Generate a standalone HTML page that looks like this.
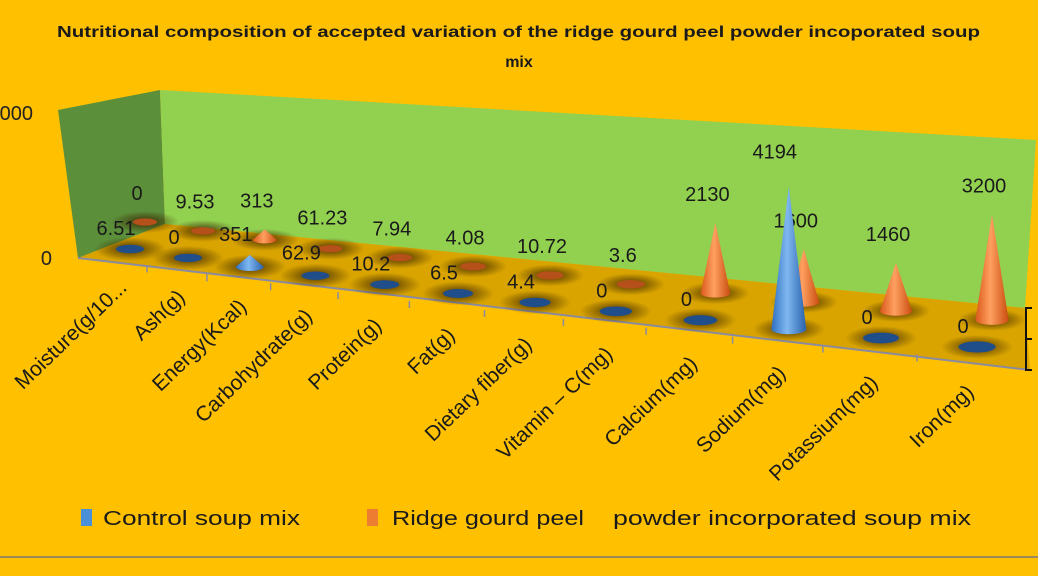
<!DOCTYPE html>
<html><head><meta charset="utf-8"><style>
html,body{margin:0;padding:0;background:#FFC000;}
svg{display:block;font-family:"Liberation Sans",sans-serif;}
</style></head><body>
<svg id="chart" width="1038" height="576" viewBox="0 0 1038 576">
<defs>
<linearGradient id="blueG" x1="0" x2="1"><stop offset="0" stop-color="#2f6fc0"/><stop offset="0.45" stop-color="#7fb8f0"/><stop offset="1" stop-color="#2a62ad"/></linearGradient>
<linearGradient id="orgG" x1="0" x2="1"><stop offset="0" stop-color="#d8581a"/><stop offset="0.45" stop-color="#ffa060"/><stop offset="1" stop-color="#c94d10"/></linearGradient>
<radialGradient id="hole"><stop offset="0" stop-color="#3a2400" stop-opacity="0.9"/><stop offset="1" stop-color="#3a2400" stop-opacity="0"/></radialGradient>
</defs>
<rect x="0" y="0" width="1038" height="576" fill="#FFC000"/>
<line x1="0" y1="557" x2="1038" y2="557" stroke="#9a8a5a" stroke-width="2"/>
<text x="57" y="37" textLength="923" lengthAdjust="spacingAndGlyphs" font-size="16" font-weight="bold" fill="#1a1a1a">Nutritional composition of accepted variation of the ridge gourd peel powder incoporated soup</text>
<text x="519" y="67" text-anchor="middle" font-size="16" font-weight="bold" fill="#1a1a1a">mix</text>
<polygon points="58,110 160,90 165,224 78,258" fill="#5b8f3a"/>
<polygon points="160,90 1036,140 1025,308 165,224" fill="#92d050"/>
<polygon points="165,224 1025,308 1030,370 78,258" fill="#d9a400"/>
<line x1="78" y1="258" x2="1030" y2="370" stroke="#8a8aa0" stroke-width="2"/>
<text x="52" y="265" text-anchor="end" font-size="20" fill="#222">0</text>
<text x="33" y="120" text-anchor="end" font-size="20" fill="#222">5000</text>
<path d="M1032 308 L1026 308 L1026 370 L1032 370 M1026 339 L1032 339" stroke="#111" stroke-width="2" fill="none"/>
<g id="marks"></g>
<g>
<rect x="81" y="509" width="11" height="17" fill="#4a90d9"/>
<text x="103" y="525" textLength="197" lengthAdjust="spacingAndGlyphs" font-size="20" fill="#1a1a1a">Control soup mix</text>
<rect x="367" y="509" width="11" height="17" fill="#ed7d31"/>
<text x="392" y="525" textLength="192" lengthAdjust="spacingAndGlyphs" font-size="20" fill="#1a1a1a">Ridge gourd peel</text>
<text x="613" y="525" textLength="358" lengthAdjust="spacingAndGlyphs" font-size="20" fill="#1a1a1a">powder incorporated soup mix</text>
</g>
</svg>
<script>
const categories = ["Moisture(g/10...","Ash(g)","Energy(Kcal)","Carbohydrate(g)","Protein(g)","Fat(g)","Dietary fiber(g)","Vitamin – C(mg)","Calcium(mg)","Sodium(mg)","Potassium(mg)","Iron(mg)"];
const controlValues = [6.51, 0, 351, 62.9, 10.2, 6.5, 4.4, 0, 0, 4194, 0, 0];
const ridgeValues = [0, 9.53, 313, 61.23, 7.94, 4.08, 10.72, 3.6, 2130, 1600, 1460, 3200];
const NS="http://www.w3.org/2000/svg";
const g=document.getElementById('marks');
function fx(i){return 130+58*i+1.9*i*(i-1);}
function fy(i){return 249+8.9*i;}
function bx(i){return fx(i)+15;}
function by(i){return fy(i)-27;}
function hF(v){return v*0.034;}
function hB(v){return v*0.033;}
function mk(tag,attrs){const e=document.createElementNS(NS,tag);for(const k in attrs)e.setAttribute(k,attrs[k]);g.appendChild(e);return e;}
function cone(x,y,h,grad,rw,name){
  const rh=rw*0.3;
  if(h<3){const e=mk('ellipse',{cx:x,cy:y,rx:rw,ry:rh,fill:grad==='blue'?'#1f4e8a':'#b5501a'});
    
    return;}
  const p=mk('path',{d:`M${x-rw} ${y} L${x} ${y-h} L${x+rw} ${y} A${rw} ${rh} 0 0 1 ${x-rw} ${y} Z`,fill:grad==='blue'?'url(#blueG)':'url(#orgG)'});
  
  
}
function label(x,y,t,name){const e=mk('text',{x:x,y:y,'text-anchor':'middle','font-size':'20',fill:'#1a1a1a'});e.textContent=t;
  
  }
categories.forEach((c,i)=>{
  const h1=mk('ellipse',{cx:bx(i),cy:by(i),rx:34,ry:11,fill:'url(#hole)'});
  
  
  const h2=mk('ellipse',{cx:fx(i),cy:fy(i),rx:36,ry:12,fill:'url(#hole)'});
  
  
});
categories.forEach((c,i)=>{
  cone(bx(i),by(i),hB(ridgeValues[i]),'org',Math.max(12,10+0.6*i),'ridge-cone-'+i);
  const hb=hB(ridgeValues[i]);
  label(bx(i)-8,by(i)-Math.max(hb,0)-22,String(ridgeValues[i]),'ridge-value-label-'+i);
});
categories.forEach((c,i)=>{
  cone(fx(i),fy(i),hF(controlValues[i]),'blue',Math.max(14,12+0.6*i),'control-cone-'+i);
  const hf=hF(controlValues[i]);
  label(fx(i)-14,fy(i)-hf-(hf>50?28:14),String(controlValues[i]),'control-value-label-'+i);
  if(i<categories.length-1){
    const tx=(fx(i)+fx(i+1))/2-12, ty=(fy(i)+fy(i+1))/2+12;
    const tk=mk('line',{x1:tx,y1:ty,x2:tx,y2:ty+7,stroke:'#8a8aa0','stroke-width':1.5});
    
    
  }
  const lx=fx(i)-2, ly=fy(i)+40+i*0.6;
  const t=mk('text',{x:lx,y:ly,'text-anchor':'end','font-size':'21',fill:'#1a1a1a',transform:`rotate(-44 ${lx} ${ly})`});
  t.textContent=c;
  
  
});
</script>
</body></html>
